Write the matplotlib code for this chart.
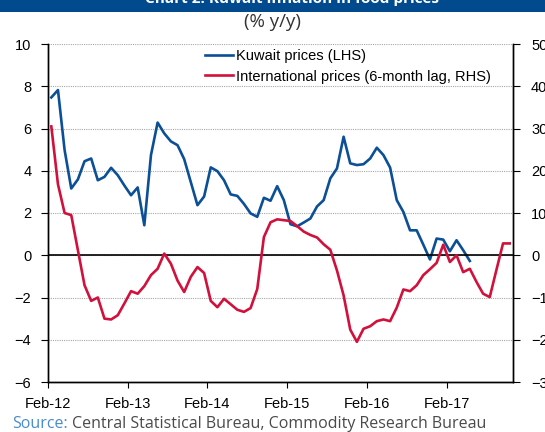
import matplotlib
matplotlib.use("Agg")
import matplotlib.pyplot as plt
from matplotlib.patches import Rectangle

# monthly data, Feb-12 onwards
tick_labels = ["Feb-12", "Feb-13", "Feb-14", "Feb-15", "Feb-16", "Feb-17"]
n_months = 70

kuwait = [7.47, 7.82, 4.98, 3.16, 3.59, 4.45, 4.58, 3.55, 3.71, 4.14,
          3.79, 3.30, 2.84, 3.21, 1.42, 4.74, 6.28, 5.77, 5.39, 5.21,
          4.55, 3.46, 2.37, 2.78, 4.16, 3.98, 3.55, 2.88, 2.81, 2.43,
          1.98, 1.82, 2.72, 2.58, 3.27, 2.61, 1.47, 1.37, 1.55, 1.74,
          2.31, 2.61, 3.64, 4.11, 5.61, 4.35, 4.27, 4.31, 4.58, 5.09,
          4.74, 4.15, 2.61, 2.05, 1.18, 1.18, 0.50, -0.20, 0.79, 0.74,
          0.19, 0.71, 0.24, -0.27]

intl = [30.5, 16.8, 10.0, 9.5, 1.2, -7.1, -10.8, -10.0, -15.0, -15.2,
        -14.2, -11.4, -8.5, -9.1, -7.3, -4.7, -3.2, 0.4, -2.0, -6.0,
        -8.7, -5.1, -2.8, -4.2, -10.8, -12.3, -10.3, -11.6, -12.9, -13.4,
        -12.5, -8.0, 4.3, 7.8, 8.5, 8.3, 8.1, 6.9, 5.6, 4.8,
        4.2, 2.6, 1.3, -3.6, -9.5, -17.6, -20.5, -17.4, -16.8, -15.6,
        -15.2, -15.6, -12.4, -8.1, -8.5, -7.1, -4.7, -3.3, -1.8, 2.5,
        -1.6, 0.0, -4.0, -3.2, -6.3, -9.1, -9.9, -3.5, 2.8, 2.8]

blue = "#0b4f96"
red = "#d2103c"
W, H = 545, 432

fig = plt.figure(figsize=(W / 100, H / 100), dpi=100)
plt.rcParams['font.family'] = ['Liberation Sans', 'DejaVu Sans']

# banner at the top (title mostly cut off)
fig.patches.append(Rectangle((0, 1 - 11.5 / H), 1, 11.5 / H, transform=fig.transFigure,
                             facecolor="#024a8e", edgecolor="none"))
fig.text(292 / W, 1 - 2.5 / H, "Chart 2: Kuwait inflation in food prices", color="white",
         fontsize=11, ha="center", va="baseline", family="Open Sans", fontweight="bold")
fig.text(273 / W, 1 - 22 / H, "(% y/y)", fontsize=13.5, ha="center", va="center",
         color="#333333", family="Open Sans")

ax = fig.add_axes([48 / W, 1 - 382 / H, (513 - 48) / W, (382 - 44) / H])
ax2 = ax.twinx()

x_k = [i + 0.5 for i in range(len(kuwait))]
x_i = [i + 0.5 for i in range(len(intl))]

l1, = ax.plot(x_k, kuwait, color=blue, lw=1.9, label="Kuwait prices (LHS)")
l2, = ax2.plot(x_i, intl, color=red, lw=1.9, label="International prices (6-month lag, RHS)")

ax.set_xlim(0, n_months)
ax.set_ylim(-6, 10)
ax2.set_ylim(-30, 50)
ax.set_yticks(range(-6, 11, 2))
ax2.set_yticks(range(-30, 51, 10))
ax.set_xticks(range(0, 61, 12))
ax.set_xticklabels(tick_labels)

ax.yaxis.grid(True, linestyle=(0, (1, 1)), color="#a8a8a8", lw=0.8)
ax.set_axisbelow(True)
ax.axhline(0, color="black", lw=1.2, zorder=3)

for a in (ax, ax2):
    a.spines["top"].set_visible(False)
    for s in ("left", "right", "bottom"):
        a.spines[s].set_color("black")
        a.spines[s].set_linewidth(1.0)

ax.tick_params(axis="y", direction="out", length=5, pad=7, labelsize=10.5, colors="black")
ax2.tick_params(axis="y", direction="out", length=5, pad=8, labelsize=10.5, colors="black")
ax.tick_params(axis="x", direction="out", length=4, pad=7, labelsize=10.5)

leg = fig.legend(handles=[l1, l2], loc="upper left", bbox_to_anchor=(205 / W, 1 - 49 / H),
                 frameon=False, fontsize=10.5, handlelength=1.9, handletextpad=0.2,
                 labelspacing=0.45, borderpad=0, borderaxespad=0)

fig.text(12 / W, 1 - 416 / H, "Source:", color="#4a8cc8", fontsize=11.5, va="top",
         family="Open Sans")
fig.text(72 / W, 1 - 416 / H, "Central Statistical Bureau, Commodity Research Bureau",
         color="#4a4a4a", fontsize=11.5, va="top", family="Open Sans")

fig.savefig("out.png", dpi=100)
